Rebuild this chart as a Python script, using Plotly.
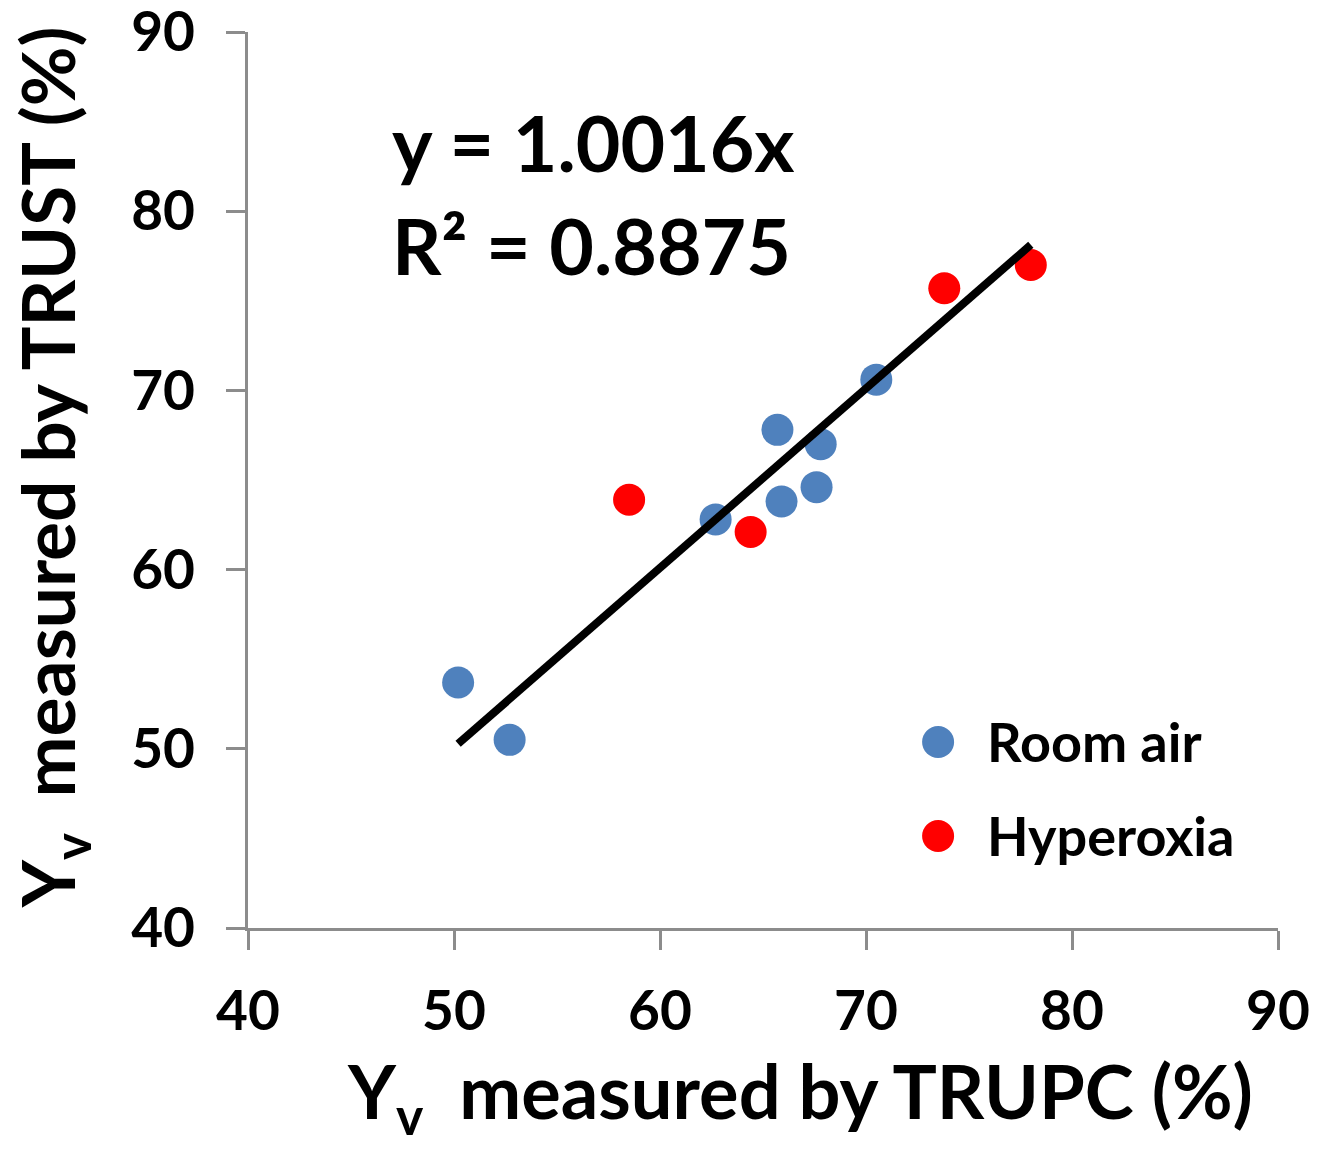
import plotly.graph_objects as go

# Data
room_x = [50.2, 52.7, 62.7, 65.7, 65.9, 67.8, 67.6, 70.5]
room_y = [53.7, 50.5, 62.8, 67.8, 63.8, 67.0, 64.6, 70.6]
hyper_x = [58.5, 64.4, 73.8, 78.0]
hyper_y = [63.9, 62.1, 75.7, 77.0]
slope = 1.0016
r2 = 0.8875
x_ticks = [40, 50, 60, 70, 80, 90]
y_ticks = [40, 50, 60, 70, 80, 90]

BLUE = "#4F81BD"
RED = "#FF0000"
FONT = "Lato"
AXIS_GRAY = "#8C8C8C"

all_x = room_x + hyper_x
line_x = [min(all_x), max(all_x)]
line_y = [slope * v for v in line_x]

fig = go.Figure()
fig.add_trace(go.Scatter(x=room_x, y=room_y, mode="markers", name="Room air",
                         marker=dict(size=32, color=BLUE), showlegend=False))
fig.add_trace(go.Scatter(x=hyper_x, y=hyper_y, mode="markers", name="Hyperoxia",
                         marker=dict(size=32, color=RED), showlegend=False))
fig.add_trace(go.Scatter(x=line_x, y=line_y, mode="lines", name="Linear fit",
                         line=dict(color="black", width=8), showlegend=False))

axis_common = dict(
    showgrid=False, zeroline=False, showline=True, linecolor=AXIS_GRAY, linewidth=3,
    ticks="outside", ticklen=19, tickwidth=3, tickcolor=AXIS_GRAY,
    tickfont=dict(family=FONT, size=55, color="black", weight="bold"),
    ticklabeloverflow="allow", automargin=False,
)
fig.update_xaxes(range=[40, 90], tickvals=x_ticks, ticklabelstandoff=14, **axis_common)
fig.update_yaxes(range=[40, 90], tickvals=y_ticks, ticklabelstandoff=20, **axis_common)

ann = []
ann.append(dict(text="y = %.4fx" % slope, x=0.138, y=0.877, xref="paper", yref="paper",
                xanchor="left", yanchor="middle", showarrow=False,
                font=dict(family=FONT, size=77, color="black", weight="bold")))
ann.append(dict(text="R² = %.4f" % r2, x=0.138, y=0.762, xref="paper", yref="paper",
                xanchor="left", yanchor="middle", showarrow=False,
                font=dict(family=FONT, size=77, color="black", weight="bold")))
# axis titles
ann.append(dict(text="Y<sub>v</sub>  measured by TRUPC (%)", x=0.536, y=-0.187,
                xref="paper", yref="paper", xanchor="center", yanchor="middle",
                showarrow=False, font=dict(family=FONT, size=74, color="black", weight="bold")))
ann.append(dict(text="Y<sub>v</sub>  measured by TRUST (%)", x=-0.19, y=0.5145,
                xref="paper", yref="paper", xanchor="center", yanchor="middle", textangle=-90,
                showarrow=False, font=dict(family=FONT, size=73, color="black", weight="bold")))
# legend
legend_items = [("Room air", BLUE, 0.2076), ("Hyperoxia", RED, 0.1027)]
shapes = []
for name, col, yy in legend_items:
    ann.append(dict(text=name, x=0.7155, y=yy, xref="paper", yref="paper",
                    xanchor="left", yanchor="middle", showarrow=False,
                    font=dict(family=FONT, size=54, color="black", weight="bold")))
    shapes.append(dict(type="circle", xref="paper", yref="paper",
                       xsizemode="pixel", ysizemode="pixel",
                       xanchor=0.67, yanchor=yy, x0=-16, x1=16, y0=-16, y1=16,
                       fillcolor=col, line=dict(width=0)))

fig.update_layout(
    width=1329, height=1161,
    margin=dict(l=248, r=51, t=32, b=233),
    plot_bgcolor="white", paper_bgcolor="white",
    annotations=ann, shapes=shapes, showlegend=False,
)

fig.write_html("out.html")
